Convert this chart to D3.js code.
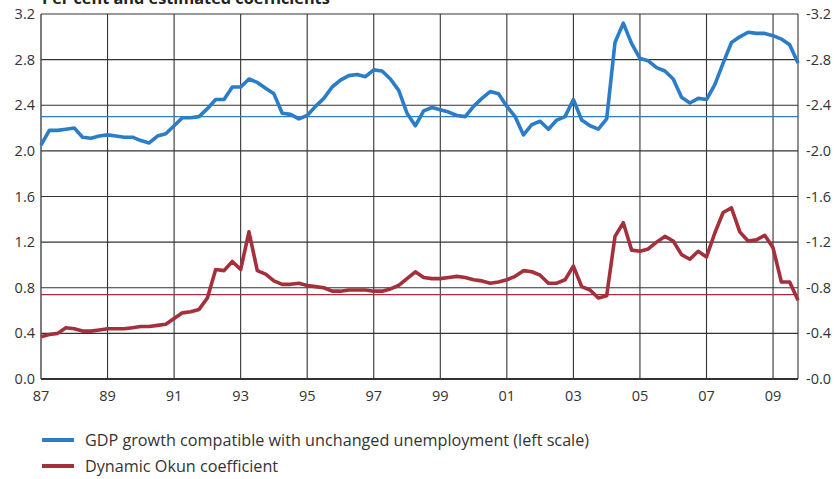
<!DOCTYPE html>
<html>
<head>
<meta charset="utf-8">
<script src="https://cdn.jsdelivr.net/npm/d3@7"></script>
<style>
  body { margin: 0; background: #fff; }
  svg { display: block; font-family: "Open Sans", sans-serif; }
  .tick-label { fill: #333; font-size: 14.5px; }
  .legend-label { fill: #333; font-size: 16.2px; }
  .title { fill: #222; font-size: 16.3px; font-weight: bold; }
</style>
</head>
<body>
<div id="chart"></div>
<script>
// quarterly observations, 1987Q1 .. 2009Q4
var firstYear = 1987;

var gdpGrowth = [
    2.05, 2.18, 2.18, 2.19, 2.20, 2.12, 2.11, 2.13, 2.14, 2.13,
    2.12, 2.12, 2.09, 2.07, 2.13, 2.15, 2.22, 2.29, 2.29, 2.30,
    2.37, 2.45, 2.45, 2.56, 2.56, 2.63, 2.60, 2.55, 2.50, 2.33,
    2.32, 2.28, 2.31, 2.39, 2.46, 2.56, 2.62, 2.66, 2.67, 2.65,
    2.71, 2.70, 2.63, 2.53, 2.33, 2.22, 2.35, 2.38, 2.36, 2.34,
    2.31, 2.30, 2.39, 2.46, 2.52, 2.50, 2.39, 2.30, 2.14, 2.23,
    2.26, 2.19, 2.27, 2.30, 2.45, 2.27, 2.22, 2.19, 2.28, 2.95,
    3.12, 2.94, 2.81, 2.79, 2.73, 2.70, 2.63, 2.47, 2.42, 2.46,
    2.45, 2.58, 2.77, 2.95, 3.00, 3.04, 3.03, 3.03, 3.01, 2.98,
    2.93, 2.77
];

var okunCoef = [
    0.37, 0.39, 0.40, 0.45, 0.44, 0.42, 0.42, 0.43, 0.44, 0.44,
    0.44, 0.45, 0.46, 0.46, 0.47, 0.48, 0.53, 0.58, 0.59, 0.61,
    0.71, 0.96, 0.95, 1.03, 0.96, 1.29, 0.95, 0.92, 0.86, 0.83,
    0.83, 0.84, 0.82, 0.81, 0.80, 0.77, 0.77, 0.78, 0.78, 0.78,
    0.77, 0.77, 0.79, 0.82, 0.88, 0.94, 0.89, 0.88, 0.88, 0.89,
    0.90, 0.89, 0.87, 0.86, 0.84, 0.85, 0.87, 0.90, 0.95, 0.94,
    0.91, 0.84, 0.84, 0.87, 0.99, 0.81, 0.78, 0.71, 0.73, 1.25,
    1.37, 1.13, 1.12, 1.14, 1.20, 1.25, 1.21, 1.09, 1.05, 1.12,
    1.07, 1.28, 1.46, 1.50, 1.29, 1.21, 1.22, 1.26, 1.15, 0.85,
    0.85, 0.69
];

// period averages drawn as thin reference lines
var gdpAverage = 2.3;
var okunAverage = 0.74;

var yTicks = [0, 0.4, 0.8, 1.2, 1.6, 2.0, 2.4, 2.8, 3.2];
var xTickYears = [1987, 1989, 1991, 1993, 1995, 1997, 1999, 2001, 2003, 2005, 2007, 2009];

var titleText = 'Per cent and estimated coefficients';
var seriesNames = [
    'GDP growth compatible with unchanged unemployment (left scale)',
    'Dynamic Okun coefficient'
];
var seriesColors = ['#2a7dc6', '#a52f3b'];


var width = 836, height = 479;
var margin = {left: 41, right: 38, top: 14, bottom: 100};

var svg = d3.select('#chart').append('svg')
    .attr('width', width)
    .attr('height', height);

var x = d3.scaleLinear()
    .domain([firstYear, firstYear + 22.75])
    .range([margin.left, width - margin.right]);

var y = d3.scaleLinear()
    .domain([0, 3.2])
    .range([height - margin.bottom, margin.top]);

var toPoints = function(values) {
    return values.map(function(v, i) {
        return {t: firstYear + i / 4, v: v};
    });
};

// grid
var grid = svg.append('g').attr('class', 'grid');

grid.selectAll('line.h')
    .data(yTicks.slice(1))
    .enter()
    .append('line')
    .attr('class', 'h')
    .attr('x1', x.range()[0])
    .attr('x2', x.range()[1])
    .attr('y1', function(d) {return y(d)})
    .attr('y2', function(d) {return y(d)})
    .style('stroke', '#333')
    .style('stroke-width', 1.1);

grid.selectAll('line.v')
    .data(xTickYears.slice(1).concat([x.domain()[1]]))
    .enter()
    .append('line')
    .attr('class', 'v')
    .attr('x1', function(d) {return x(d)})
    .attr('x2', function(d) {return x(d)})
    .attr('y1', y(3.2))
    .attr('y2', y(0))
    .style('stroke', '#333')
    .style('stroke-width', 1.1);

// left frame and base line
svg.append('line')
    .attr('x1', x.range()[0]).attr('x2', x.range()[0])
    .attr('y1', y(3.2)).attr('y2', y(0))
    .style('stroke', '#444').style('stroke-width', 1.4);

svg.append('line')
    .attr('x1', x.range()[0]).attr('x2', x.range()[1])
    .attr('y1', y(0)).attr('y2', y(0))
    .style('stroke', '#333').style('stroke-width', 2);

// tick labels
var fmt = d3.format('.1f');

svg.append('g').selectAll('text')
    .data(yTicks)
    .enter()
    .append('text')
    .attr('class', 'tick-label')
    .attr('x', x.range()[0] - 6)
    .attr('y', function(d) {return y(d)})
    .attr('dy', '0.35em')
    .attr('text-anchor', 'end')
    .text(function(d) {return fmt(d)});

svg.append('g').selectAll('text')
    .data(yTicks)
    .enter()
    .append('text')
    .attr('class', 'tick-label')
    .attr('x', x.range()[1] + 8)
    .attr('y', function(d) {return y(d)})
    .attr('dy', '0.35em')
    .attr('text-anchor', 'start')
    .text(function(d) {return '-' + fmt(d)});

svg.append('g').selectAll('text')
    .data(xTickYears)
    .enter()
    .append('text')
    .attr('class', 'tick-label')
    .attr('x', function(d) {return x(d)})
    .attr('y', y(0) + 22)
    .attr('text-anchor', 'middle')
    .text(function(d) {return String(d).slice(2)});

// average lines
svg.append('line')
    .attr('x1', x.range()[0]).attr('x2', x.range()[1])
    .attr('y1', y(gdpAverage)).attr('y2', y(gdpAverage))
    .style('stroke', seriesColors[0]).style('stroke-width', 1.2);

svg.append('line')
    .attr('x1', x.range()[0]).attr('x2', x.range()[1])
    .attr('y1', y(okunAverage)).attr('y2', y(okunAverage))
    .style('stroke', seriesColors[1]).style('stroke-width', 1.2);

// series
var line = d3.line()
    .x(function(d) {return x(d.t)})
    .y(function(d) {return y(d.v)});

[gdpGrowth, okunCoef].forEach(function(values, n) {
    svg.append('path')
        .datum(toPoints(values))
        .attr('d', line)
        .style('fill', 'none')
        .style('stroke', seriesColors[n])
        .style('stroke-width', 3.6)
        .style('stroke-linejoin', 'round');
});

// title, sits against the top edge like the source
svg.append('text')
    .attr('class', 'title')
    .attr('x', 42)
    .attr('y', 4)
    .text(titleText);

// legend
var legend = svg.append('g')
    .attr('transform', 'translate(42, 440)');

seriesNames.forEach(function(name, n) {
    var row = legend.append('g')
        .attr('transform', 'translate(0,' + (n * 26) + ')');
    row.append('line')
        .attr('x1', 0).attr('x2', 32)
        .attr('y1', 0).attr('y2', 0)
        .style('stroke', seriesColors[n])
        .style('stroke-width', 4);
    row.append('text')
        .attr('class', 'legend-label')
        .attr('x', 43)
        .attr('dy', '0.35em')
        .text(name);
});
</script>
</body>
</html>
